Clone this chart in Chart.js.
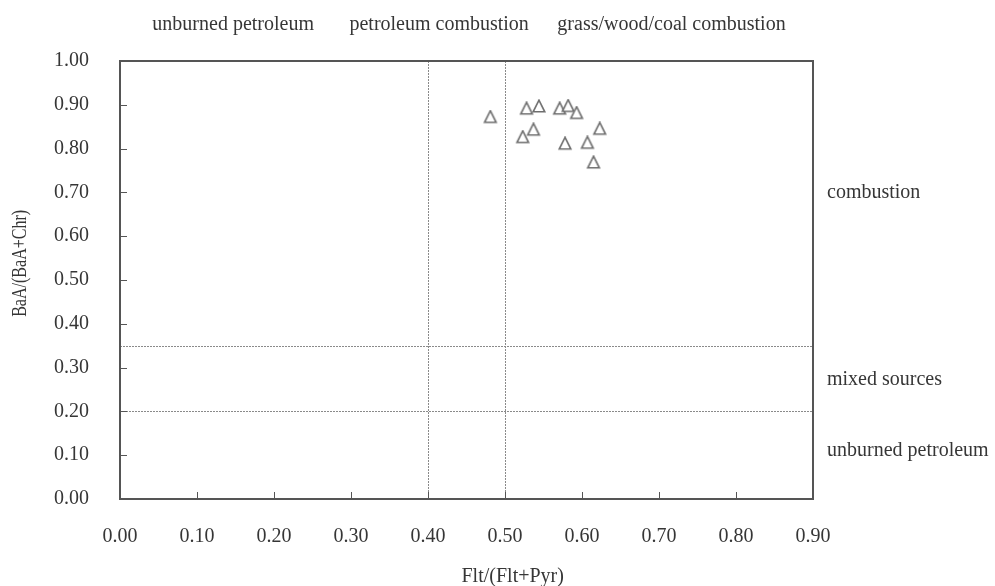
<!DOCTYPE html>
<html>
<head>
<meta charset="utf-8">
<script src="https://cdn.jsdelivr.net/npm/chart.js@4/dist/chart.umd.min.js"></script>
<style>
  html, body { margin: 0; padding: 0; background: #fff; }
  #wrap { width: 995px; height: 586px; }
</style>
</head>
<body>
<div id="wrap"><canvas id="c" width="995" height="586"></canvas></div>
<script>
// ---- data ----
const fltRatio = [0.481, 0.528, 0.544, 0.571, 0.582, 0.593, 0.523, 0.537, 0.578, 0.607, 0.623, 0.615];
const baaRatio = [0.871, 0.890, 0.895, 0.890, 0.896, 0.880, 0.825, 0.842, 0.810, 0.812, 0.844, 0.767];
const xTickValues = [0.00, 0.10, 0.20, 0.30, 0.40, 0.50, 0.60, 0.70, 0.80, 0.90];
const yTickValues = [0.00, 0.10, 0.20, 0.30, 0.40, 0.50, 0.60, 0.70, 0.80, 0.90, 1.00];
const xThresholds = [0.4, 0.5];
const yThresholds = [0.2, 0.35];
const topZoneLabels = ['unburned petroleum', 'petroleum combustion', 'grass/wood/coal combustion'];
const topZoneStarts = [0.042, 0.298, 0.568];
const rightZoneLabels = ['combustion', 'mixed sources', 'unburned petroleum'];
const rightZoneLevels = [0.70, 0.272, 0.11];
const xTitle = 'Flt/(Flt+Pyr)';
const yTitle = 'BaA/(BaA+Chr)';

const FONT = "'Liberation Serif', 'Times New Roman', serif";
const TEXT = '#363636';

const points = fltRatio.map((x, i) => ({ x: x, y: baaRatio[i] }));

// open triangle marker (slightly taller than wide, as in the reference)
function makeTriangle() {
  const c = document.createElement('canvas');
  c.width = 16; c.height = 16;
  const g = c.getContext('2d');
  g.fillStyle = '#ffffff';
  g.strokeStyle = '#6e6e6e';
  g.lineWidth = 1.6;
  g.lineJoin = 'miter';
  g.beginPath();
  g.moveTo(8, 1.2);
  g.lineTo(13.8, 12.8);
  g.lineTo(2.2, 12.8);
  g.closePath();
  g.fill();
  g.stroke();
  return c;
}
const triangleMarker = makeTriangle();

const overlay = {
  id: 'overlay',
  beforeDatasetsDraw(chart) {
    const { ctx, chartArea: a, scales: { x, y } } = chart;
    ctx.save();
    ctx.strokeStyle = '#8a8a8a';
    ctx.lineWidth = 1;
    ctx.setLineDash([2, 1]);
    xThresholds.forEach(v => {
      const px = Math.round(x.getPixelForValue(v)) + 0.5;
      ctx.beginPath(); ctx.moveTo(px, a.top); ctx.lineTo(px, a.bottom); ctx.stroke();
    });
    yThresholds.forEach(v => {
      const py = Math.round(y.getPixelForValue(v)) + 0.5;
      ctx.beginPath(); ctx.moveTo(a.left, py); ctx.lineTo(a.right, py); ctx.stroke();
    });
    ctx.setLineDash([]);
    // inside tick marks
    ctx.strokeStyle = '#555';
    ctx.lineWidth = 1;
    xTickValues.forEach(v => {
      const px = Math.round(x.getPixelForValue(v)) + 0.5;
      ctx.beginPath(); ctx.moveTo(px, a.bottom); ctx.lineTo(px, a.bottom - 7); ctx.stroke();
    });
    yTickValues.forEach(v => {
      const py = Math.round(y.getPixelForValue(v)) + 0.5;
      ctx.beginPath(); ctx.moveTo(a.left, py); ctx.lineTo(a.left + 7, py); ctx.stroke();
    });
    // frame
    ctx.strokeStyle = '#555';
    ctx.lineWidth = 2;
    ctx.strokeRect(a.left, a.top, a.right - a.left, a.bottom - a.top);
    ctx.restore();
  },
  afterDraw(chart) {
    const { ctx, chartArea: a, scales: { x, y } } = chart;
    ctx.save();
    ctx.fillStyle = TEXT;
    ctx.font = '20px ' + FONT;
    ctx.textBaseline = 'middle';
    ctx.textAlign = 'left';
    topZoneLabels.forEach((t, i) => {
      ctx.fillText(t, x.getPixelForValue(topZoneStarts[i]), a.top - 36);
    });
    rightZoneLabels.forEach((t, i) => {
      ctx.fillText(t, a.right + 14, y.getPixelForValue(rightZoneLevels[i]));
    });
    // x axis title (placed as in the reference, right of centre)
    ctx.textAlign = 'center';
    ctx.fillText(xTitle, x.getPixelForValue(0.51), a.bottom + 78);
    // y axis title (condensed, as in the reference)
    const w = ctx.measureText(yTitle).width;
    ctx.translate(21, y.getPixelForValue(0.538));
    ctx.rotate(-Math.PI / 2);
    ctx.scale(107 / w, 1);
    ctx.fillText(yTitle, 0, 0);
    ctx.restore();
  }
};

new Chart(document.getElementById('c'), {
  type: 'scatter',
  data: {
    datasets: [{
      data: points,
      pointStyle: triangleMarker,
      pointRadius: 7,
      pointHoverRadius: 7,
      pointBackgroundColor: '#ffffff',
      pointBorderColor: '#6e6e6e'
    }]
  },
  options: {
    responsive: false,
    animation: false,
    devicePixelRatio: 1,
    layout: { padding: { top: 61, right: 182, left: 0, bottom: 0 } },
    plugins: { legend: { display: false }, tooltip: { enabled: false } },
    scales: {
      x: {
        type: 'linear',
        min: 0, max: 0.9,
        afterBuildTicks(s) { s.ticks = xTickValues.map(v => ({ value: v })); },
        afterFit(s) { s.height = 87; },
        grid: { display: false, drawTicks: false },
        border: { display: false },
        ticks: {
          padding: 26,
          color: TEXT,
          font: { family: FONT, size: 20 },
          maxRotation: 0,
          callback: v => Number(v).toFixed(2)
        },
        title: { display: false, text: xTitle }
      },
      y: {
        type: 'linear',
        min: 0, max: 1,
        afterBuildTicks(s) { s.ticks = yTickValues.map(v => ({ value: v })); },
        afterFit(s) { s.width = 120; },
        grid: { display: false, drawTicks: false },
        border: { display: false },
        ticks: {
          padding: 31,
          color: TEXT,
          font: { family: FONT, size: 20 },
          callback: v => Number(v).toFixed(2)
        },
        title: { display: false, text: yTitle }
      }
    }
  },
  plugins: [overlay]
});
</script>
</body>
</html>
